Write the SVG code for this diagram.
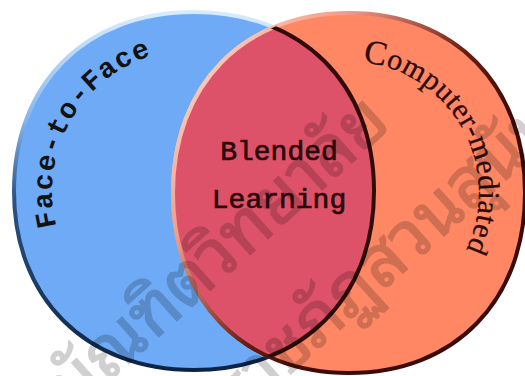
<svg xmlns="http://www.w3.org/2000/svg" width="525" height="376" viewBox="0 0 525 376">
  <style>
    .face { font-family: "Liberation Mono", "DejaVu Sans Mono", monospace; font-weight: bold; font-size: 28px; fill: #121212; letter-spacing: 1.2px; }
    .comp { font-family: "Liberation Serif", "DejaVu Serif", serif; font-size: 30px; fill: #2b0a08; stroke: #2b0a08; stroke-width: 0.3px; letter-spacing: 0.5px; }
    .blend { font-family: "Liberation Mono", "DejaVu Sans Mono", monospace; font-size: 28px; fill: #2a0a0a; stroke: #2a0a0a; stroke-width: 0.7px; text-anchor: middle; }
    .wm { font-family: "Noto Sans Thai Looped", "Noto Sans Thai", "Loma", "Garuda", "Norasi", "Noto Sans", sans-serif; font-weight: normal; font-size: 70px; fill: #000000; stroke: #000000; stroke-width: 1.6px; }
  </style>
  <defs>
    <path id="blueShape" d="M374,191 C374,298.4 302,370 194,370 C86,370 14,298.4 14,191 C14,83.6 86,12 194,12 C302,12 374,83.6 374,191 Z"/>
    <path id="orangeShape" d="M525,193 C525,301 454.6,373 349,373 C243.4,373 173,301 173,193 C173,85 243.4,13 349,13 C454.6,13 525,85 525,193 Z"/>
    <clipPath id="clipBlue"><use href="#blueShape"/></clipPath>
    <clipPath id="clipOrange"><use href="#orangeShape"/></clipPath>
    <linearGradient id="gBlue" x1="0" y1="0" x2="0" y2="1">
      <stop offset="0" stop-color="#d8ecff"/>
      <stop offset="0.3" stop-color="#86b6ee"/>
      <stop offset="0.52" stop-color="#2c5384"/>
      <stop offset="1" stop-color="#0b2445"/>
    </linearGradient>
    <linearGradient id="gOrange" x1="0.1" y1="0.05" x2="0.75" y2="0.55">
      <stop offset="0" stop-color="#ffd6c4"/>
      <stop offset="0.35" stop-color="#f09a86"/>
      <stop offset="0.75" stop-color="#6a1c12"/>
      <stop offset="1" stop-color="#3a0c06"/>
    </linearGradient>
    <path id="arcFace" d="M56.5,226.3 A142,142 0 0,1 242.6,57.6"/>
    <path id="arcComp" d="M362.6,61.9 A132,132 0 0,1 413,307.3"/>
  </defs>

  <rect x="0" y="0" width="525" height="376" fill="#ffffff"/>

  <g id="node-face-to-face">
    <use href="#blueShape" fill="#6eaaf5" stroke="url(#gBlue)" stroke-width="4"/>
    <text class="face"><textPath href="#arcFace">Face-to-Face</textPath></text>
  </g>

  <g id="node-computer-mediated">
    <use href="#orangeShape" fill="#ff8764" stroke="url(#gOrange)" stroke-width="4"/>
    <text class="comp"><textPath href="#arcComp"><tspan font-size="34">C</tspan>omputer-mediated</textPath></text>
  </g>

  <g id="node-blended-learning">
    <g clip-path="url(#clipBlue)">
      <use href="#orangeShape" fill="#de5269"/>
    </g>
    <use href="#orangeShape" fill="none" stroke="url(#gOrange)" stroke-width="4" clip-path="url(#clipBlue)"/>
    <use href="#blueShape" fill="none" stroke="#2e0c0a" stroke-width="4" clip-path="url(#clipOrange)"/>
    <text class="blend" x="279" y="160">Blended</text>
    <text class="blend" x="279" y="208">Learning</text>
  </g>

  <g id="connectors"/>

  <g id="watermark" opacity="0.18" transform="translate(140,320) rotate(-42)">
    <text class="wm" x="-112" y="25">บัณฑิตวิทยาลัย</text>
    <text class="wm" x="-345" y="141">มหาวิทยาลัยราชภัฏสวนสุนันทา</text>
  </g>
</svg>
